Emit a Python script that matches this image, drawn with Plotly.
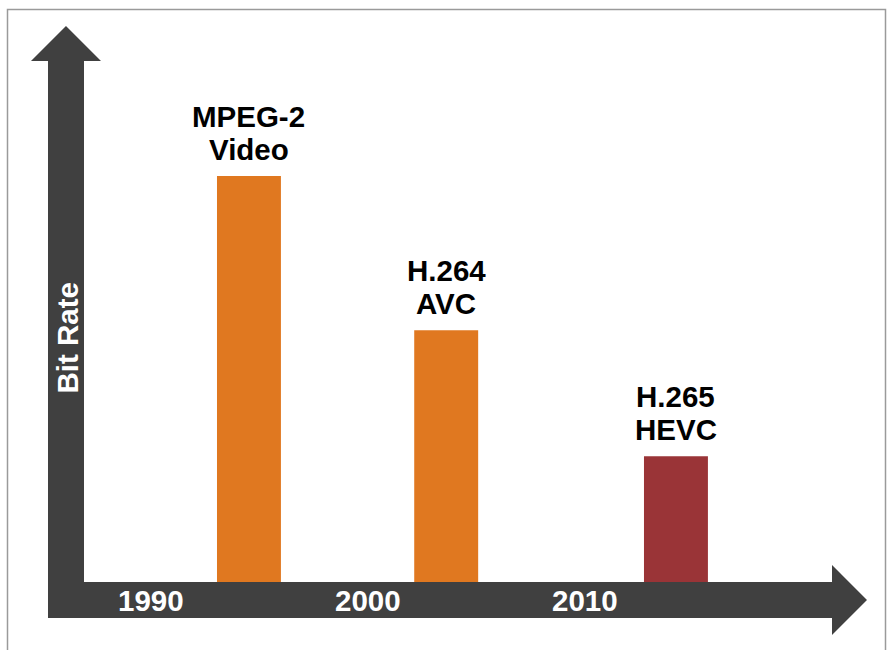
import plotly.graph_objects as go

# ---- data ----
codec_line1 = ["MPEG-2", "H.264", "H.265"]
codec_line2 = ["Video", "AVC", "HEVC"]
codec_year = [1994.6, 2003.7, 2014.3]
bit_rate = [100, 62, 31]
bar_colors = ["#E07820", "#E07820", "#9A3437"]
tick_years = [1990, 2000, 2010]
tick_labels = ["1990", "2000", "2010"]
y_title = "Bit Rate"

W, H = 892, 650
FONT = "Liberation Sans, Arial, Helvetica, sans-serif"
DARK = "#404040"
FS = 29.5


def px(x, y):
    """pixel -> paper coordinates (margins are zero)."""
    return x / W, 1 - y / H


def path(points):
    s = ""
    for i, (x, y) in enumerate(points):
        X, Y = px(x, y)
        s += ("M" if i == 0 else "L") + f"{X:.5f},{Y:.5f} "
    return s + "Z"


fig = go.Figure()
fig.add_trace(go.Bar(
    x=codec_year, y=bit_rate, width=2.95,
    marker=dict(color=bar_colors, line=dict(width=0)),
    hoverinfo="skip",
))

arrow = [(48, 618), (48, 61), (31, 61), (66, 26), (101, 61), (84, 61),
         (84, 582), (832, 582), (832, 565), (867, 600), (832, 635),
         (832, 618)]
shapes = [
    dict(type="path", xref="paper", yref="paper", path=path(arrow),
         fillcolor=DARK, line=dict(width=0), layer="below"),
    dict(type="rect", xref="paper", yref="paper",
         x0=7.5 / W, x1=885.5 / W, y0=1 - 700 / H, y1=1 - 9.5 / H,
         line=dict(color="#9a9a9a", width=1.5), fillcolor="rgba(0,0,0,0)"),
]

annotations = []
for x, y, a, b in zip(codec_year, bit_rate, codec_line1, codec_line2):
    for txt, shift in ((a, 60), (b, 27)):
        annotations.append(dict(
            x=x, y=y, xref="x", yref="y", text=f"<b>{txt}</b>",
            showarrow=False, yanchor="middle", xanchor="center",
            yshift=shift, font=dict(family=FONT, size=FS, color="black")))

for yr, lab in zip(tick_years, tick_labels):
    annotations.append(dict(
        x=yr, y=1 - 600 / H, xref="x", yref="paper", text=f"<b>{lab}</b>",
        showarrow=False, yanchor="middle", xanchor="center", xshift=2,
        font=dict(family=FONT, size=FS, color="white")))

annotations.append(dict(
    x=66.5 / W, y=1 - 338 / H, xref="paper", yref="paper",
    text=f"<b>{y_title}</b>", textangle=-90, showarrow=False,
    xanchor="center", yanchor="middle",
    font=dict(family=FONT, size=FS, color="white")))

fig.update_layout(
    width=W, height=H, autosize=False,
    margin=dict(l=0, r=0, t=0, b=0, pad=0),
    paper_bgcolor="white", plot_bgcolor="white",
    showlegend=False,
    xaxis=dict(range=[1983.114, 2024.268], visible=False, fixedrange=True),
    yaxis=dict(range=[-16.75, 143.35], visible=False, fixedrange=True),
    shapes=shapes, annotations=annotations,
)

fig.write_html("out.html", config=dict(displayModeBar=False))
